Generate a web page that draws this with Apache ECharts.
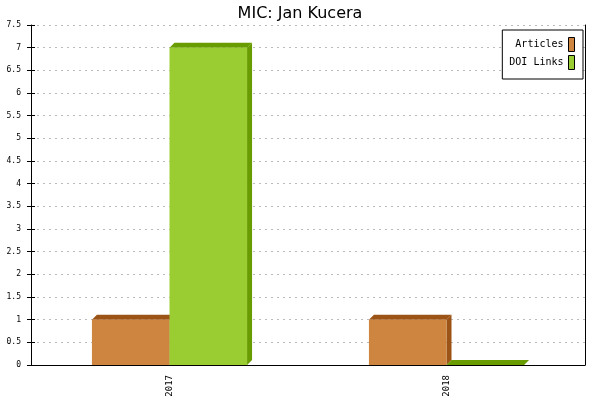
<!DOCTYPE html>
<html>
<head>
<meta charset="utf-8">
<script src="https://cdn.jsdelivr.net/npm/echarts@6/dist/echarts.min.js"></script>
<style>
  html, body { margin: 0; padding: 0; background: #fff; }
  #main { width: 600px; height: 400px; }
</style>
</head>
<body>
<div id="main"></div>
<script>
// data
var categories = ['2017', '2018'];
var articles = [1, 1];
var doiLinks = [7, 0];
var seriesNames = ['Articles', 'DOI Links'];

var mono = 'DejaVu Sans Mono';

// 3D-ish bar: front face + top face + right side face
function bar3d(side, front, dark) {
  return function (params, api) {
    var cat = api.value(0);
    var val = api.value(1);
    var top = api.coord([cat, val]);
    var base = api.coord([cat, 0]);
    var bw = api.size([1, 0])[0] * 0.28;
    var x0 = top[0] + side * bw;
    var x1 = x0 + bw;
    var y0 = top[1];
    var y1 = base[1];
    var d = 5;
    return {
      type: 'group',
      children: [
        { type: 'polygon', shape: { points: [[x1, y1], [x1 + d, y1 - d], [x1 + d, y0 - d], [x1, y0]] }, style: { fill: dark } },
        { type: 'polygon', shape: { points: [[x0, y0], [x0 + d, y0 - d], [x1 + d, y0 - d], [x1, y0]] }, style: { fill: dark } },
        { type: 'rect', shape: { x: x0, y: y0, width: bw, height: y1 - y0 }, style: { fill: front } }
      ]
    };
  };
}

var myChart = echarts.init(document.getElementById('main'));

var option = {
  backgroundColor: '#fff',
  animation: false,
  title: {
    text: 'MIC: Jan Kucera',
    left: 'center',
    top: 1,
    textStyle: { fontFamily: 'DejaVu Sans', fontSize: 16, fontWeight: 'normal', color: '#000' }
  },
  legend: {
    data: seriesNames,
    orient: 'vertical',
    right: 17,
    top: 30,
    align: 'right',
    icon: 'rect',
    itemWidth: 6,
    itemHeight: 14,
    itemGap: 3,
    padding: [7, 8, 9, 7],
    backgroundColor: '#fff',
    borderColor: '#000',
    borderWidth: 1,
    itemStyle: { borderColor: '#000', borderWidth: 1 },
    textStyle: { fontFamily: mono, fontSize: 10, color: '#000' }
  },
  grid: { left: 31, right: 15, top: 25, bottom: 35 },
  xAxis: {
    type: 'category',
    data: categories,
    axisLine: { lineStyle: { color: '#000', width: 1 } },
    axisTick: { length: 5, lineStyle: { color: '#000' } },
    axisLabel: { rotate: 90, margin: 10, fontFamily: mono, fontSize: 9, color: '#000' },
    splitLine: { show: false }
  },
  yAxis: [
    {
      type: 'value',
      position: 'left',
      min: 0,
      max: 7.5,
      interval: 0.5,
      axisLine: { show: true, lineStyle: { color: '#000', width: 1 } },
      axisTick: { show: true, length: 4, lineStyle: { color: '#000' } },
      axisLabel: { margin: 10, fontFamily: mono, fontSize: 8, color: '#000' },
      splitLine: { show: true, lineStyle: { color: '#bbb', type: [2, 4] } }
    },
    {
      type: 'value',
      position: 'left',
      min: 0,
      max: 7.5,
      interval: 0.5,
      axisLine: { show: false },
      axisTick: { show: true, inside: true, length: 4, lineStyle: { color: '#000' } },
      axisLabel: { show: false },
      splitLine: { show: false }
    },
    {
      type: 'value',
      position: 'right',
      min: 0,
      max: 7.5,
      interval: 0.5,
      axisLine: { show: true, lineStyle: { color: '#000', width: 1 } },
      axisTick: { show: false },
      axisLabel: { show: false },
      splitLine: { show: false }
    }
  ],
  series: [
    {
      name: seriesNames[0],
      type: 'custom',
      yAxisIndex: 0,
      itemStyle: { color: '#CD853F' },
      renderItem: bar3d(-1, '#CD853F', '#9C5316'),
      encode: { x: 0, y: 1 },
      data: articles.map(function (v, i) { return [i, v]; })
    },
    {
      name: seriesNames[1],
      type: 'custom',
      yAxisIndex: 0,
      itemStyle: { color: '#9ACD32' },
      renderItem: bar3d(0, '#9ACD32', '#699C00'),
      encode: { x: 0, y: 1 },
      data: doiLinks.map(function (v, i) { return [i, v]; })
    }
  ]
};

myChart.setOption(option);
</script>
</body>
</html>
